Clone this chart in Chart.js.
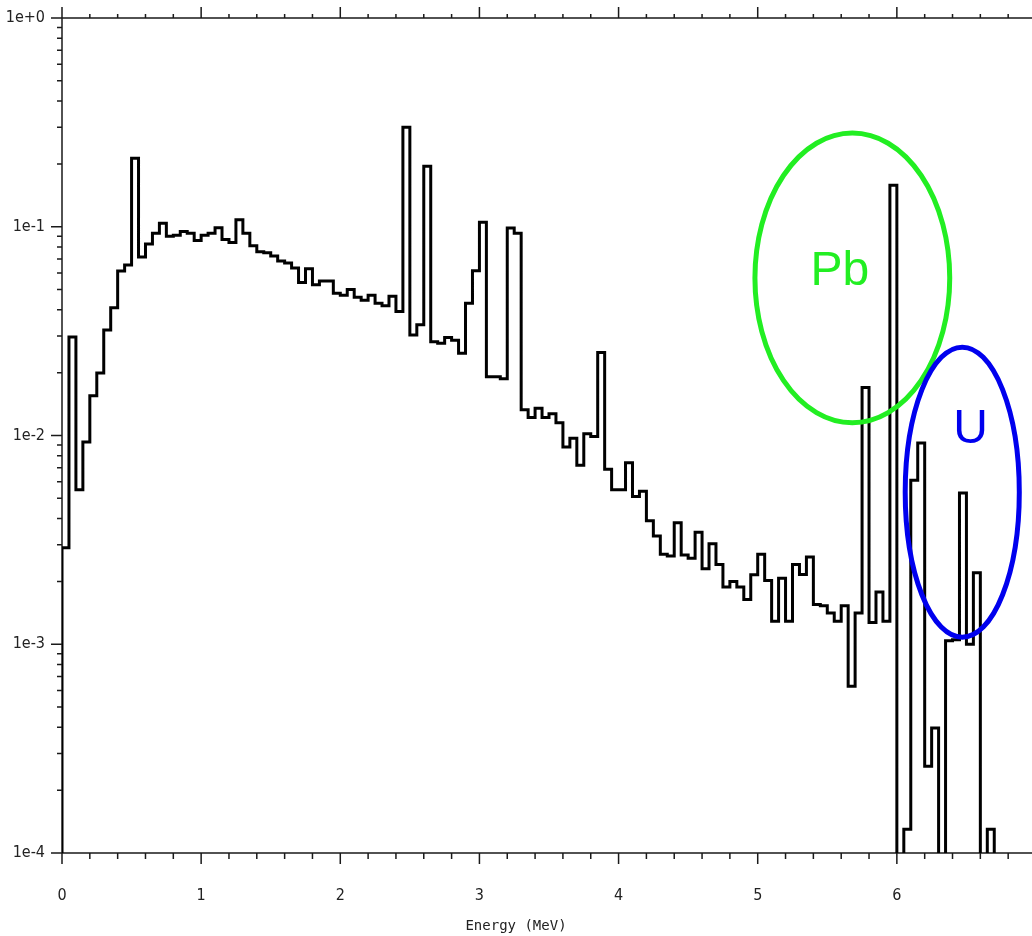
<!DOCTYPE html>
<html>
<head>
<meta charset="utf-8">
<title>Energy spectrum</title>
<script src="https://cdn.jsdelivr.net/npm/chart.js@4.4.1/dist/chart.umd.min.js"></script>
<style>
  html, body { margin: 0; padding: 0; overflow: hidden; background: #fff; }
  #wrap { position: relative; width: 1060px; height: 936px; }
</style>
</head>
<body>
<div id="wrap"><canvas id="spectrum"></canvas></div>
<script>
// spectrum histogram, 0.05 MeV bins from 0 to 7 MeV
const binWidth = 0.05;
const floorValue = 5e-5; // empty bins, below the plotted range

const counts = [
  2.9e-3, 0.0296, 5.5e-3, 9.3e-3, 0.0155, 0.0199, 0.032, 0.0409, 0.0614, 0.0656,
  0.213, 0.0716, 0.0826, 0.093, 0.104, 0.090, 0.091, 0.095, 0.093, 0.086,
  0.091, 0.093, 0.099, 0.087, 0.084, 0.108, 0.093, 0.081, 0.076, 0.075,
  0.0725, 0.0685, 0.067, 0.0635, 0.054, 0.063, 0.0527, 0.055, 0.055, 0.048,
  0.047, 0.050, 0.046, 0.0445, 0.047, 0.043, 0.0418, 0.0464, 0.0393, 0.30,
  0.0303, 0.0339, 0.195, 0.0281, 0.0277, 0.0295, 0.0286, 0.0248, 0.0430, 0.0615,
  0.105, 0.0191, 0.0191, 0.0187, 0.0987, 0.093, 0.0133, 0.0122, 0.0135, 0.0122,
  0.0127, 0.0115, 0.0088, 0.0097, 0.0072, 0.0102, 0.0099, 0.0250, 0.0069, 0.0055,
  0.0055, 0.0074, 0.0051, 0.0054, 0.0039, 0.0033, 0.00270, 0.00265, 0.00382, 0.00268,
  0.00258, 0.00344, 0.00230, 0.00303, 0.00241, 0.00188, 0.00200, 0.00188, 0.00164, 0.00215,
  0.00270, 0.00202, 0.00129, 0.00207, 0.00129, 0.00241, 0.00216, 0.00262, 0.00155, 0.00153,
  0.00141, 0.00129, 0.00153, 6.3e-4, 0.00141, 0.0170, 0.00127, 0.00178, 0.00129, 0.158,
  5e-5, 1.3e-4, 6.1e-3, 9.2e-3, 2.6e-4, 3.97e-4, 5e-5, 1.04e-3, 1.05e-3, 5.3e-3,
  1.0e-3, 2.2e-3, 5e-5, 1.3e-4, 5e-5, 5e-5, 5e-5, 5e-5, 5e-5, 5e-5
];

const xTickValues = [0, 1, 2, 3, 4, 5, 6, 7];
const xTickLabels = ['0', '1', '2', '3', '4', '5', '6', '7'];
const yTickValues = [1e-4, 1e-3, 1e-2, 1e-1, 1];
const yTickLabels = ['1e-4', '1e-3', '1e-2', '1e-1', '1e+0'];
const xTitle = 'Energy (MeV)';

// circled regions: energy range, count range, label position
const regions = [
  { text: 'Pb', color: '#22ee22', x: [4.98, 6.38], y: [0.0115, 0.281], labelAt: [5.59, 0.0526] },
  { text: 'U',  color: '#0000ee', x: [6.06, 6.88], y: [1.08e-3, 0.0265], labelAt: [6.53, 9.2e-3] }
];

// step points at the lower bin edges, closed at both ends
const points = [{ x: 0, y: floorValue }];
counts.forEach((c, i) => points.push({ x: i * binWidth, y: c }));
points.push({ x: counts.length * binWidth, y: floorValue });

const tickFont = { family: "'DejaVu Sans Condensed', 'Liberation Sans Narrow', 'DejaVu Sans', sans-serif", size: 16 };

// frame lines with outward tick marks on left, top and bottom
const axisFrame = {
  id: 'axisFrame',
  beforeDatasetsDraw(chart) {
    const { ctx, chartArea: a, scales: { x, y } } = chart;
    ctx.save();
    ctx.strokeStyle = '#1a1a1a';
    ctx.lineWidth = 1.5;
    ctx.beginPath();
    ctx.moveTo(a.left, a.top); ctx.lineTo(a.right, a.top);
    ctx.moveTo(a.left, a.bottom); ctx.lineTo(a.right, a.bottom);
    ctx.moveTo(a.left, a.top); ctx.lineTo(a.left, a.bottom);
    for (let k = 0; k <= 35; k++) {
      const px = x.getPixelForValue(k * 0.2);
      const major = k % 5 === 0;
      ctx.moveTo(px, a.bottom); ctx.lineTo(px, a.bottom + (major ? 11 : 6));
      ctx.moveTo(px, a.top); ctx.lineTo(px, a.top - (major ? 11 : 4));
    }
    for (let e = -4; e <= 0; e++) {
      for (let d = 1; d <= 9; d++) {
        if (e === 0 && d > 1) break;
        const py = y.getPixelForValue(d * Math.pow(10, e));
        ctx.moveTo(a.left, py); ctx.lineTo(a.left - (d === 1 ? 11 : 5), py);
      }
    }
    ctx.stroke();

    // axis title sits centred under the visible part of the plot
    ctx.fillStyle = '#222';
    ctx.font = "14px 'DejaVu Sans Mono', monospace";
    ctx.textAlign = 'center';
    ctx.textBaseline = 'middle';
    ctx.fillText(xTitle, 516, 926);
    ctx.restore();
  }
};

const regionMarks = {
  id: 'regionMarks',
  afterDatasetsDraw(chart) {
    const { ctx, scales: { x, y } } = chart;
    ctx.save();
    regions.forEach(r => {
      const x0 = x.getPixelForValue(r.x[0]), x1 = x.getPixelForValue(r.x[1]);
      const y0 = y.getPixelForValue(r.y[0]), y1 = y.getPixelForValue(r.y[1]);
      ctx.strokeStyle = r.color;
      ctx.lineWidth = 5;
      ctx.beginPath();
      ctx.ellipse((x0 + x1) / 2, (y0 + y1) / 2, Math.abs(x1 - x0) / 2, Math.abs(y1 - y0) / 2, 0, 0, Math.PI * 2);
      ctx.stroke();
      ctx.fillStyle = r.color;
      ctx.font = "48px 'Liberation Sans', Arial, sans-serif";
      ctx.textAlign = 'center';
      ctx.textBaseline = 'alphabetic';
      ctx.fillText(r.text, x.getPixelForValue(r.labelAt[0]), y.getPixelForValue(r.labelAt[1]));
    });
    ctx.restore();
  }
};

new Chart(document.getElementById('spectrum'), {
  type: 'line',
  data: {
    datasets: [{
      data: points,
      stepped: true,
      borderColor: '#000',
      borderWidth: 3,
      borderJoinStyle: 'miter',
      pointRadius: 0,
      fill: false
    }]
  },
  options: {
    responsive: true,
    maintainAspectRatio: false,
    animation: false,
    layout: { padding: { top: 18, right: 24, left: 0, bottom: 0 } },
    plugins: { legend: { display: false }, tooltip: { enabled: false } },
    scales: {
      x: {
        type: 'linear',
        min: 0,
        max: 7,
        grid: { display: false, drawTicks: false },
        border: { display: false },
        afterBuildTicks(scale) { scale.ticks = xTickValues.map(v => ({ value: v })); },
        // fixed axis band; label overhang is covered by the layout padding
        afterFit(scale) {
          scale.height = 83;
          scale.paddingLeft = 0;
          scale.paddingRight = 0;
        },
        ticks: {
          padding: 33,
          color: '#222',
          font: tickFont,
          maxRotation: 0,
          autoSkip: false,
          callback: (v, i) => xTickLabels[i]
        }
      },
      y: {
        type: 'logarithmic',
        min: 1e-4,
        max: 1,
        grid: { display: false, drawTicks: false },
        border: { display: false },
        afterBuildTicks(scale) { scale.ticks = yTickValues.map(v => ({ value: v })); },
        afterFit(scale) {
          scale.width = 62;
          scale.paddingTop = 0;
          scale.paddingBottom = 0;
        },
        ticks: {
          padding: 17,
          color: '#222',
          font: tickFont,
          autoSkip: false,
          callback: (v, i) => yTickLabels[i]
        }
      }
    }
  },
  plugins: [axisFrame, regionMarks]
});
</script>
</body>
</html>
